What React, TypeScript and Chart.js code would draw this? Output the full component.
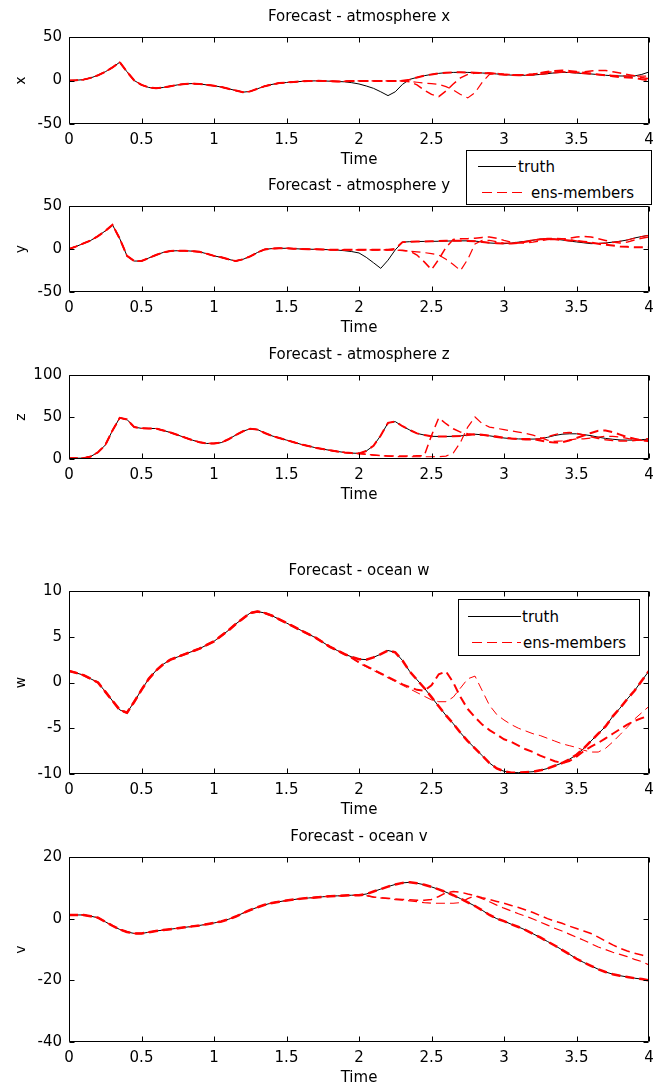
import React, { useEffect, useRef } from 'react';
import { Chart, registerables } from 'chart.js';

Chart.register(...registerables);

const FONT = "'DejaVu Sans', sans-serif";

const time = [0, 0.05, 0.1, 0.15, 0.2, 0.25, 0.3, 0.35, 0.4, 0.45, 0.5, 0.55, 0.6, 0.65, 0.7, 0.75, 0.8, 0.85, 0.9, 0.95,
  1, 1.05, 1.1, 1.15, 1.2, 1.25, 1.3, 1.35, 1.4, 1.45, 1.5, 1.55, 1.6, 1.65, 1.7, 1.75, 1.8, 1.85, 1.9, 1.95,
  2, 2.05, 2.1, 2.15, 2.2, 2.25, 2.3, 2.35, 2.4, 2.45, 2.5, 2.55, 2.6, 2.65, 2.7, 2.75, 2.8, 2.85, 2.9, 2.95,
  3, 3.05, 3.1, 3.15, 3.2, 3.25, 3.3, 3.35, 3.4, 3.45, 3.5, 3.55, 3.6, 3.65, 3.7, 3.75, 3.8, 3.85, 3.9, 3.95, 4];

const xTicks = [0, 0.5, 1, 1.5, 2, 2.5, 3, 3.5, 4];
const xTickLabels = ['0', '0.5', '1', '1.5', '2', '2.5', '3', '3.5', '4'];

// ---- atmosphere x ----
const truthX = [0, 0.3, 1, 3, 6, 10, 15, 21, 10, 0,
  -5, -8, -9, -8, -6.5, -5, -4, -3.5, -4, -5,
  -6, -7.5, -9.5, -11.5, -13.4, -12.5, -9.5, -6.5, -4.5, -3,
  -2.3, -1.6, -1.1, -0.6, -0.4, -0.5, -0.8, -1.1, -1.5, -2.5,
  -4, -6.3, -9, -13, -17.4, -13, -4.4, 1.3, 3.6, 5.5,
  7, 8.2, 9, 9.3, 9.4, 9.3, 9, 8.6, 8.2, 7.5,
  6.7, 6.2, 6, 6, 6.3, 7, 7.9, 8.8, 9.4, 9.2,
  8.6, 8, 7.5, 6.8, 6, 5.5, 5.2, 5.1, 5.2, 7,
  9.8];
const xSplit = 38; // members leave truth at t = 1.9
const xTailA = [-1, -0.7, -0.5, -0.5, -0.5, -0.5, -0.5, -0.5, -0.3, 1, 3.5, 5.5, 7, 8.2, 9, 9.3, 9.4, 9.3, 9, 8.6,
  8.2, 7.5, 6.7, 6.3, 6, 6.3, 7, 8.5, 10, 11, 11.5, 11, 10, 9, 8, 7, 6, 5, 4, 3.5, 3, 1.5, 0];
const xTailB = [-1, -0.7, -0.5, -0.5, -0.5, -0.5, -0.5, -0.5, -0.5, -1.5, -5, -11, -16, -18.5, -12, -4, 3, 7, 8.5, 8.8,
  8.5, 8, 7.2, 6.8, 6.5, 6.8, 7.5, 8.5, 9.5, 10, 10, 9.5, 9.3, 10, 11, 11.5, 11.5, 10, 8.5, 7, 5.5, 3.5, 2];
const xTailC = [-1, -0.7, -0.5, -0.5, -0.5, -0.5, -0.5, -0.5, -0.5, -1, -2, -3, -3.5, -4.5, -7, -11, -16, -20, -14, -2,
  7, 8.5, 7, 6.2, 6, 6, 6.3, 7, 7.9, 8.8, 9.4, 9.2, 8.6, 8, 7.5, 6.8, 6.5, 6, 5.5, 5, 5, 5, 5];

// ---- atmosphere y ----
const truthY = [0, 3, 6.5, 10, 15, 21, 28, 12, -8, -14,
  -14, -10.5, -7, -4, -2.3, -2, -2, -2.5, -3.3, -5.5,
  -8, -9.7, -12, -14, -12, -8.5, -4, -0.5, 0.5, 0.8,
  0.8, 0.4, 0, -0.2, -0.4, -0.6, -0.8, -1.2, -2, -3,
  -4.6, -9.7, -16, -22.5, -13, -1, 8, 8.5, 8.7, 8.8,
  8.9, 9, 9.2, 9.4, 9.5, 9.5, 9.2, 8.2, 7, 6.5,
  6.2, 6.8, 8, 9, 10.2, 11.5, 12, 11.5, 10.5, 9.3,
  8.2, 7.2, 6.2, 6.5, 7, 8, 9, 10.5, 12.8, 14.5,
  16];
const ySplit = 37; // t = 1.85
const yTailA = [-1, -1, -1, -1, -1, -1, -1, -1, 0, 8, 8.5, 8.7, 8.8, 9, 9.3, 9.5, 9.6, 9.5, 9.3, 9,
  8.2, 7.2, 6.8, 6.5, 6.5, 7, 8.5, 10, 11.2, 11.6, 11.2, 10.5, 10, 9.5, 8.5, 7.5, 6, 5, 4, 3, 2.5, 2, 2, 2];
const yTailB = [-1, -1, -1, -1, -1, -1, -1, -1, -1.2, -1.5, -2.5, -7, -15, -24, -12, 2, 11, 12, 12, 12.5,
  13.5, 14, 12.5, 10, 8, 7, 7, 8, 9.5, 11, 11.5, 11.5, 12.5, 14, 14.7, 14, 12, 10, 8, 7, 8, 10.5, 12.5, 14];
const yTailC = [-1, -1, -1, -1, -1, -1, -1, -1, -1.3, -1.8, -2.5, -3.3, -4.2, -5.3, -7, -12, -18, -25, -12, 6,
  10, 10, 8.5, 7, 6.8, 7.5, 9, 10.5, 11.5, 12.3, 12.5, 12, 11, 9.5, 8, 7.2, 6.5, 6.5, 7.5, 9, 10.5, 12.5, 14.5, 16];

// ---- atmosphere z ----
const truthZ = [0.8, 0.9, 1, 3, 8, 16.5, 34, 49, 47, 38,
  36.5, 36.3, 36.3, 34, 31.5, 28.5, 25.5, 22.5, 20, 18.5,
  18.5, 19.5, 23.5, 28.5, 33, 36, 35, 31, 27.5, 25,
  22.5, 20, 17.5, 15.5, 13.4, 11.8, 10.3, 9, 7.8, 7,
  6.7, 9.5, 15.8, 28, 43, 44.5, 39, 34.5, 30.5, 28.5,
  27, 26.8, 26.8, 27, 27.5, 28.5, 29.5, 28.8, 27.6, 26.3,
  25, 24.3, 23.9, 23.7, 23.7, 24, 25.8, 28, 29.5, 30,
  30, 29, 27.8, 26, 24.5, 23.5, 22.7, 22.5, 22.5, 23,
  23.7];
const zSplitA = 65; // t = 3.25
const zTailA = [22, 20.5, 19.5, 20, 22, 25, 28, 31, 33.5, 34, 32, 29, 26, 24, 22.5, 21];
const zSplit = 40; // t = 2.0
const zTailB = [6.5, 5.5, 4.7, 4, 3.7, 3.5, 3.5, 3.6, 3.8, 4,
  28, 49, 42, 36, 32, 30, 29, 28.5, 28, 27,
  25.5, 24.5, 23.5, 23, 23, 24, 26.5, 29, 31, 31.5,
  30.5, 28.5, 26.5, 24.5, 23, 22, 21.5, 21.5, 22, 23,
  24.5];
const zTailC = [6.5, 5.5, 4.7, 4, 3.5, 3, 2.8, 2.7, 2.7, 2.7,
  2.7, 2.8, 3.5, 7, 20, 38, 50, 42, 38, 36.5,
  35, 33.5, 32, 30.5, 28.5, 25.5, 22.5, 21, 21.5, 22.5,
  24, 24, 25, 26, 27, 27, 26, 24.5, 23, 22,
  21.5];

// ---- ocean w ----
const truthW = [1.26, 1.05, 0.8, 0.4, 0, -1, -2, -3, -3.3, -2.1,
  -0.8, 0.4, 1.3, 2, 2.5, 2.8, 3.1, 3.4, 3.7, 4.1,
  4.5, 5.1, 5.7, 6.4, 7, 7.6, 7.75, 7.6, 7.3, 6.9,
  6.5, 6.1, 5.7, 5.3, 4.9, 4.4, 3.9, 3.5, 3.1, 2.8,
  2.55, 2.5, 2.75, 3.1, 3.5, 3.3, 2.4, 1.2, 0.3, -0.6,
  -1.6, -2.6, -3.6, -4.5, -5.5, -6.4, -7.2, -8, -8.8, -9.4,
  -9.7, -9.85, -9.85, -9.8, -9.75, -9.6, -9.4, -9.1, -8.8, -8.4,
  -7.9, -7.2, -6.4, -5.6, -4.8, -3.7, -2.8, -1.8, -0.9, 0.2,
  1.26];
const wSplit = 39; // t = 1.95
const wTailB = [2.7, 2.2, 1.8, 1.4, 1, 0.6, 0.2, -0.2, -0.5, -0.8, -0.9,
  -0.3, 0.9, 1.2, 0, -1.6, -2.9, -3.8, -4.6, -5.2, -5.7,
  -6.2, -6.5, -6.9, -7.3, -7.6, -8, -8.3, -8.6, -8.8, -8.6,
  -8.1, -7.5, -7, -6.6, -6.1, -5.6, -5.1, -4.6, -4.2, -3.9,
  -3.6];
const wTailC = [2.7, 2.1, 1.7, 1.3, 0.9, 0.5, 0.1, -0.3, -0.7, -1.1, -1.5,
  -1.9, -2.1, -2.1, -1.6, -0.6, 0.4, 0.7, -0.9, -2.5, -3.5,
  -4.1, -4.6, -5, -5.3, -5.6, -5.8, -6.1, -6.4, -6.7, -6.9,
  -7.1, -7.4, -7.6, -7.6, -7.2, -6.5, -5.7, -4.9, -4, -3.3,
  -2.6];

// ---- ocean v ----
const truthV = [1.2, 1.2, 1.2, 0.8, 0.3, -1, -2.3, -3.5, -4.3, -4.8,
  -4.8, -4.4, -4, -3.7, -3.4, -3.1, -2.8, -2.5, -2.2, -1.8,
  -1.4, -0.9, -0.2, 0.7, 1.8, 2.8, 3.7, 4.5, 5.1, 5.5,
  5.9, 6.2, 6.5, 6.7, 6.9, 7.1, 7.3, 7.4, 7.5, 7.6,
  7.6, 8, 8.8, 9.6, 10.4, 11.1, 11.6, 11.8, 11.5, 11,
  10.3, 9.5, 8.6, 7.6, 6.5, 5.3, 4.1, 2.7, 1.2, 0,
  -0.8, -1.8, -2.7, -3.7, -4.9, -6.1, -7.4, -8.7, -10.1, -11.5,
  -13, -14.2, -15.3, -16.4, -17.3, -18, -18.5, -18.9, -19.3, -19.6,
  -20];
const vSplit = 41; // t = 2.05
const vTailB = [7.5, 7, 6.8, 6.6, 6.4, 6.2, 6.1, 6, 6,
  6.2, 7.2, 8.4, 8.8, 8.6, 8, 7.5, 6.8, 6.2, 5.6,
  5, 4.3, 3.6, 2.8, 2, 1, 0, -0.8, -1.5, -2.4,
  -3.2, -4, -4.8, -6, -7.3, -8.5, -9.6, -10.5, -11.2, -11.8,
  -12.5];
const vTailC = [7.5, 7, 6.7, 6.5, 6.2, 6, 5.8, 5.5, 5.2,
  5, 5, 5, 5, 5.2, 6.5, 7.4, 6.5, 5.5, 4.4,
  3.4, 2.5, 1.6, 0.8, -0.1, -1.1, -2.1, -3.1, -4, -5,
  -6, -7, -8.1, -9.2, -10, -10.9, -11.6, -12.3, -13.2, -13.9,
  -15];

const member = (truth: number[], split: number, tail: number[]) => truth.slice(0, split).concat(tail);

type PanelCfg = {
  title: string; ylabel: string; plotTop: number; plotBottom: number;
  yMin: number; yMax: number; yStep: number;
  truth: number[]; members: number[][]; widths: number[];
};

const panels: PanelCfg[] = [
  { title: 'Forecast - atmosphere x', ylabel: 'x', plotTop: 37, plotBottom: 124, yMin: -50, yMax: 50, yStep: 50,
    truth: truthX, members: [member(truthX, xSplit, xTailA), member(truthX, xSplit, xTailB), member(truthX, xSplit, xTailC)], widths: [2, 1.5, 1.2] },
  { title: 'Forecast - atmosphere y', ylabel: 'y', plotTop: 206, plotBottom: 292, yMin: -50, yMax: 50, yStep: 50,
    truth: truthY, members: [member(truthY, ySplit, yTailA), member(truthY, ySplit, yTailB), member(truthY, ySplit, yTailC)], widths: [2, 1.5, 1.2] },
  { title: 'Forecast - atmosphere z', ylabel: 'z', plotTop: 375, plotBottom: 459, yMin: 0, yMax: 100, yStep: 50,
    truth: truthZ, members: [member(truthZ, zSplitA, zTailA), member(truthZ, zSplit, zTailB), member(truthZ, zSplit, zTailC)], widths: [2, 1.5, 1.2] },
  { title: 'Forecast - ocean w', ylabel: 'w', plotTop: 591, plotBottom: 774, yMin: -10, yMax: 10, yStep: 5,
    truth: truthW, members: [truthW.slice(), member(truthW, wSplit, wTailB), member(truthW, wSplit, wTailC)], widths: [2.5, 2, 1] },
  { title: 'Forecast - ocean v', ylabel: 'v', plotTop: 857, plotBottom: 1042, yMin: -40, yMax: 20, yStep: 20,
    truth: truthV, members: [truthV.slice(), member(truthV, vSplit, vTailB), member(truthV, vSplit, vTailC)], widths: [2.5, 1.5, 1.2] },
];

const TOP_SPACE = 35;
const BOTTOM_SPACE = 50;

const frameTicks = {
  id: 'frameTicks',
  afterDatasetsDraw(chart: any) {
    const { ctx, chartArea: a, scales } = chart;
    ctx.save();
    ctx.strokeStyle = '#000';
    ctx.lineWidth = 1;
    const L = Math.round(a.left) + 0.5;
    const R = Math.round(a.right) - 0.5;
    const T = Math.round(a.top) + 0.5;
    const B = Math.round(a.bottom) - 0.5;
    ctx.beginPath();
    ctx.rect(L, T, R - L, B - T);
    const xs = scales.x;
    const ys = scales.y;
    xs.ticks.forEach((t: any) => {
      const p = Math.round(xs.getPixelForValue(t.value)) + 0.5;
      ctx.moveTo(p, B); ctx.lineTo(p, B - 5);
      ctx.moveTo(p, T); ctx.lineTo(p, T + 5);
    });
    ys.ticks.forEach((t: any) => {
      const p = Math.round(ys.getPixelForValue(t.value)) + 0.5;
      ctx.moveTo(L, p); ctx.lineTo(L + 5, p);
      ctx.moveTo(R, p); ctx.lineTo(R - 5, p);
    });
    ctx.stroke();
    ctx.restore();
  },
};

function Panel({ cfg }: { cfg: PanelCfg }) {
  const ref = useRef<HTMLCanvasElement>(null);
  const canvasTop = cfg.plotTop - TOP_SPACE;
  const h = cfg.plotBottom - cfg.plotTop + TOP_SPACE + BOTTOM_SPACE;
  useEffect(() => {
    const toPts = (arr: number[]) => time.map((t, i) => ({ x: t, y: arr[i] }));
    const dashOffsets = [0, 1, 2];
    const memberSets = cfg.members.map((m, k) => ({
      label: 'ens-members',
      data: toPts(m),
      borderColor: '#ff0000',
      borderWidth: cfg.widths[k],
      borderDash: [9, 5],
      borderDashOffset: dashOffsets[k],
      pointRadius: 0,
      tension: 0,
      fill: false,
    }));
    const chart = new Chart(ref.current!, {
      type: 'line',
      data: {
        datasets: [
          ...memberSets,
          { label: 'truth', data: toPts(cfg.truth), borderColor: '#000', borderWidth: 1, pointRadius: 0, tension: 0, fill: false },
        ],
      },
      options: {
        animation: false,
        responsive: false,
        devicePixelRatio: 1,
        layout: { padding: { left: 0, right: 5, top: 0, bottom: 0 } },
        plugins: {
          legend: { display: false },
          tooltip: { enabled: false },
          title: {
            display: true, text: cfg.title, color: '#000', fullSize: false,
            font: { family: FONT, size: 15, weight: 'normal' }, padding: { top: 6, bottom: 11 },
          },
        },
        scales: {
          x: {
            type: 'linear', min: 0, max: 4,
            afterBuildTicks: (s: any) => { s.ticks = xTicks.map((v) => ({ value: v })); },
            afterFit: (s: any) => { s.height = BOTTOM_SPACE; s.paddingRight = 0; s.paddingLeft = 0; },
            grid: { display: false, drawTicks: false },
            border: { display: false },
            ticks: {
              color: '#000', padding: 7, maxRotation: 0, autoSkip: false, font: { family: FONT, size: 15 },
              callback: (v: any) => { const i = xTicks.indexOf(Number(v)); return i >= 0 ? xTickLabels[i] : String(v); },
            },
            title: { display: true, text: 'Time', color: '#000', font: { family: FONT, size: 15 }, padding: { top: 0, bottom: 5 } },
          },
          y: {
            type: 'linear', min: cfg.yMin, max: cfg.yMax,
            ticks: { stepSize: cfg.yStep, color: '#000', padding: 7, font: { family: FONT, size: 15 },
              callback: (v: any) => String(v) },
            afterFit: (s: any) => { s.width = 69; s.paddingTop = 0; s.paddingBottom = 0; },
            grid: { display: false, drawTicks: false },
            border: { display: false },
            title: { display: true, text: cfg.ylabel, color: '#000', font: { family: FONT, size: 14 }, padding: { top: 13, bottom: 0 } },
          },
        },
      } as any,
      plugins: [frameTicks],
    });
    return () => chart.destroy();
  }, []);
  return (
    <canvas ref={ref} width={654} height={h}
      style={{ position: 'absolute', left: 0, top: canvasTop, width: 654, height: h }} />
  );
}

type LegendCfg = { left: number; top: number; width: number; height: number;
  truthY: number; truthLine: [number, number]; truthText: number;
  ensY: number; ensLine: [number, number]; ensText: number };

const legends: LegendCfg[] = [
  { left: 466, top: 150, width: 186, height: 55, truthY: 166, truthLine: [478, 516], truthText: 518, ensY: 192, ensLine: [482, 527], ensText: 531 },
  { left: 458, top: 599, width: 182, height: 57, truthY: 616, truthLine: [468, 521], truthText: 522, ensY: 642, ensLine: [472, 521], ensText: 523 },
];

function Legend({ l }: { l: LegendCfg }) {
  const txt = (x: number, y: number, s: string) => (
    <div style={{ position: 'absolute', left: x - l.left - 1, top: y - l.top - 10, height: 20, lineHeight: '20px',
      fontFamily: FONT, fontSize: 15, color: '#000', whiteSpace: 'nowrap' }}>{s}</div>
  );
  return (
    <div style={{ position: 'absolute', left: l.left, top: l.top, width: l.width - 2, height: l.height - 2,
      border: '1px solid #000', background: '#fff' }}>
      <svg width={l.width} height={l.height} style={{ position: 'absolute', left: -1, top: -1 }}>
        <line x1={l.truthLine[0] - l.left} x2={l.truthLine[1] - l.left} y1={l.truthY - l.top + 0.5} y2={l.truthY - l.top + 0.5}
          stroke="#000" strokeWidth={1} />
        <line x1={l.ensLine[0] - l.left} x2={l.ensLine[1] - l.left} y1={l.ensY - l.top + 0.5} y2={l.ensY - l.top + 0.5}
          stroke="#ff0000" strokeWidth={1} strokeDasharray="10 5" />
      </svg>
      {txt(l.truthText, l.truthY, 'truth')}
      {txt(l.ensText, l.ensY, 'ens-members')}
    </div>
  );
}

export default function App() {
  return (
    <div style={{ position: 'fixed', left: 0, top: 0, width: 654, height: 1090, background: '#fff', overflow: 'hidden' }}>
      {panels.map((p, i) => <Panel key={i} cfg={p} />)}
      {legends.map((l, i) => <Legend key={i} l={l} />)}
    </div>
  );
}
